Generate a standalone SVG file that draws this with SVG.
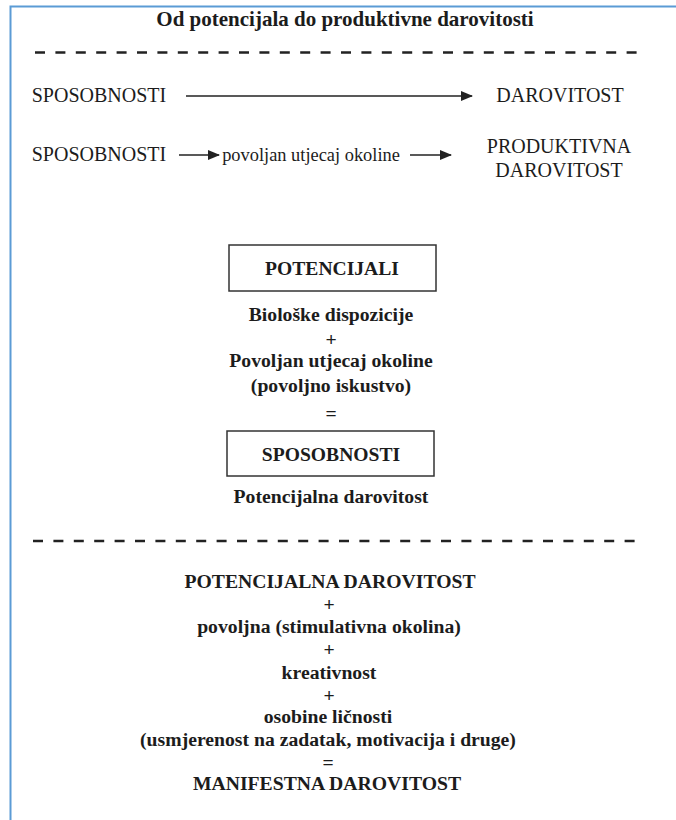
<svg xmlns="http://www.w3.org/2000/svg" width="676" height="820" viewBox="0 0 676 820" font-family="'Liberation Serif', 'DejaVu Serif', serif">
<style>
text{font-family:'Liberation Serif','DejaVu Serif',serif;fill:#1c1c1c;text-anchor:middle}
.b{font-weight:bold;font-size:19.7px}
.r{font-size:20px}
.l{font-size:18.4px}
.t{font-weight:bold;font-size:21px}
.bx{font-weight:bold;font-size:19.6px}
.sep{stroke:#222;stroke-width:2.6;stroke-dasharray:10 10.4;fill:none}
.box{fill:#fff;stroke:#333;stroke-width:1.5}
.ar{stroke:#222;stroke-width:1.5;fill:none;marker-end:url(#ah)}
</style>
<defs>
<marker id="ah" viewBox="0 0 12 10" refX="11" refY="5" markerWidth="12" markerHeight="10" markerUnits="userSpaceOnUse" orient="auto">
<path d="M0,0 L12,5 L0,10 Z" fill="#222"/>
</marker>
</defs>
<rect width="676" height="820" fill="#fff"/>
<path d="M10.5,820 V6.5 H676" fill="none" stroke="#5b9bd5" stroke-width="2"/>
<g id="title"><text class="t" x="345" y="26">Od potencijala do produktivne darovitosti</text></g>
<g id="separators">
<line class="sep" x1="35" y1="52.5" x2="640" y2="52.5"/>
<line class="sep" x1="33" y1="541" x2="640" y2="541"/>
</g>
<g id="connectors">
<line class="ar" x1="186" y1="96" x2="472" y2="96"/>
<line class="ar" x1="179" y1="155" x2="219" y2="155"/>
<line class="ar" x1="410" y1="155" x2="451" y2="155"/>
</g>
<g id="n-sposobnosti1"><text class="r" x="99" y="102">SPOSOBNOSTI</text></g>
<g id="n-darovitost"><text class="r" x="560" y="102">DAROVITOST</text></g>
<g id="n-sposobnosti2"><text class="r" x="99" y="161">SPOSOBNOSTI</text></g>
<g id="n-povoljan"><text class="l" x="311" y="161">povoljan utjecaj okoline</text></g>
<g id="n-produktivna"><text class="r" x="559" y="153">PRODUKTIVNA</text><text class="r" x="559" y="177">DAROVITOST</text></g>
<g id="n-potencijali"><rect class="box" x="229" y="245" width="207" height="46"/><text class="bx" x="332" y="275">POTENCIJALI</text></g>
<g id="formula1">
<text class="b" x="331" y="321">Biološke dispozicije</text>
<text class="b" x="331" y="346">+</text>
<text class="b" x="331" y="367">Povoljan utjecaj okoline</text>
<text class="b" x="331" y="392">(povoljno iskustvo)</text>
<text class="b" x="331" y="420">=</text>
</g>
<g id="n-sposobnosti3"><rect class="box" x="227" y="431" width="207" height="45"/><text class="bx" x="331" y="461">SPOSOBNOSTI</text></g>
<g id="n-potencijalna"><text class="b" x="331" y="503">Potencijalna darovitost</text></g>
<g id="formula2">
<text class="b" x="330" y="588">POTENCIJALNA DAROVITOST</text>
<text class="b" x="329" y="611">+</text>
<text class="b" x="329" y="633">povoljna (stimulativna okolina)</text>
<text class="b" x="329" y="656">+</text>
<text class="b" x="329" y="679">kreativnost</text>
<text class="b" x="329" y="702">+</text>
<text class="b" x="328" y="723">osobine ličnosti</text>
<text class="b" x="328" y="746">(usmjerenost na zadatak, motivacija i druge)</text>
<text class="b" x="328" y="769">=</text>
<text class="b" x="327" y="790">MANIFESTNA DAROVITOST</text>
</g>
</svg>
